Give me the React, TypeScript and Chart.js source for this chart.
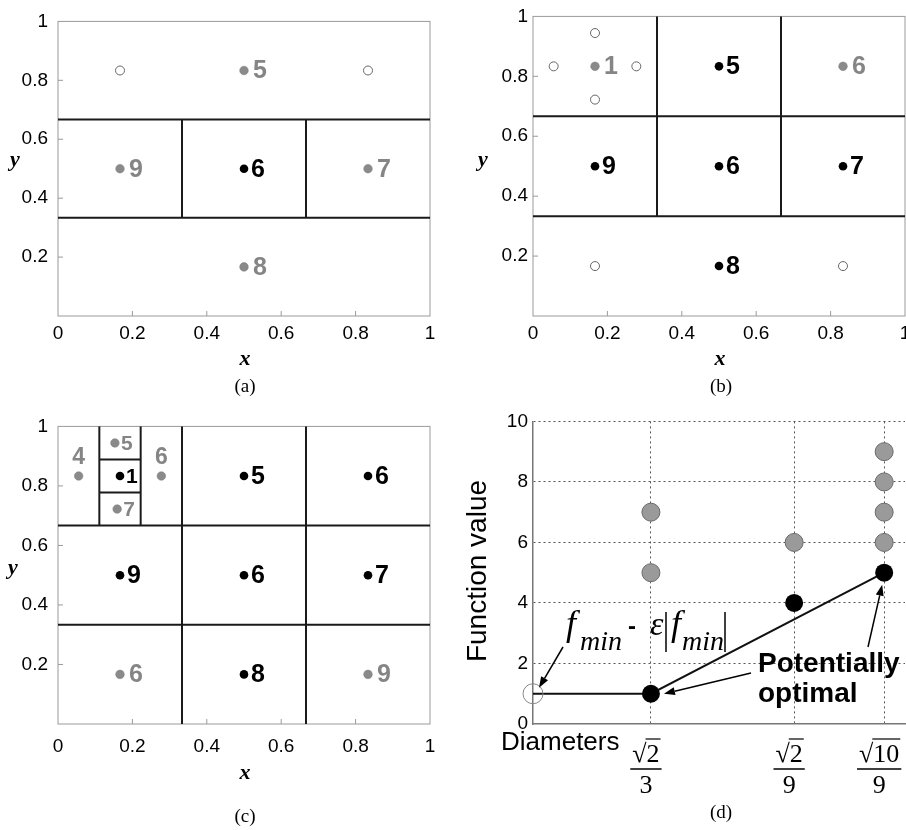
import React, { useEffect, useRef } from "react";
import { Chart, registerables } from "chart.js";
Chart.register(...registerables);

const SANS = '"Liberation Sans", Arial, sans-serif';
const SERIF = '"Liberation Serif", "Times New Roman", serif';

// ---------- data ----------
const UNIT_TICKS = [0, 0.2, 0.4, 0.6, 0.8, 1];

// panel (a)
const A_OPEN = [{ x: 1 / 6, y: 5 / 6 }, { x: 5 / 6, y: 5 / 6 }];
const A_GRAY = [
  { x: 0.5, y: 5 / 6, t: "5" },
  { x: 1 / 6, y: 0.5, t: "9" },
  { x: 5 / 6, y: 0.5, t: "7" },
  { x: 0.5, y: 1 / 6, t: "8" },
];
const A_BLACK = [{ x: 0.5, y: 0.5, t: "6" }];
const A_LINES = [
  [0, 2 / 3, 1, 2 / 3],
  [0, 1 / 3, 1, 1 / 3],
  [1 / 3, 1 / 3, 1 / 3, 2 / 3],
  [2 / 3, 1 / 3, 2 / 3, 2 / 3],
];

// panel (b)
const B_OPEN = [
  { x: 1 / 18, y: 5 / 6 },
  { x: 5 / 18, y: 5 / 6 },
  { x: 1 / 6, y: 17 / 18 },
  { x: 1 / 6, y: 13 / 18 },
  { x: 1 / 6, y: 1 / 6 },
  { x: 5 / 6, y: 1 / 6 },
];
const B_GRAY = [
  { x: 1 / 6, y: 5 / 6, t: "1" },
  { x: 5 / 6, y: 5 / 6, t: "6" },
];
const B_BLACK = [
  { x: 0.5, y: 5 / 6, t: "5" },
  { x: 1 / 6, y: 0.5, t: "9" },
  { x: 0.5, y: 0.5, t: "6" },
  { x: 5 / 6, y: 0.5, t: "7" },
  { x: 0.5, y: 1 / 6, t: "8" },
];
const B_LINES = [
  [0, 2 / 3, 1, 2 / 3],
  [0, 1 / 3, 1, 1 / 3],
  [1 / 3, 1 / 3, 1 / 3, 1],
  [2 / 3, 1 / 3, 2 / 3, 1],
];

// panel (c)
const C_OPEN: { x: number; y: number }[] = [];
const C_GRAY = [
  { x: 1 / 18, y: 5 / 6, t: "4" },
  { x: 5 / 18, y: 5 / 6, t: "6" },
  { x: 0.153, y: 17 / 18, t: "5" },
  { x: 0.159, y: 13 / 18, t: "7" },
  { x: 1 / 6, y: 1 / 6, t: "6" },
  { x: 5 / 6, y: 1 / 6, t: "9" },
];
const C_BLACK = [
  { x: 1 / 6, y: 5 / 6, t: "1" },
  { x: 0.5, y: 5 / 6, t: "5" },
  { x: 5 / 6, y: 5 / 6, t: "6" },
  { x: 1 / 6, y: 0.5, t: "9" },
  { x: 0.5, y: 0.5, t: "6" },
  { x: 5 / 6, y: 0.5, t: "7" },
  { x: 0.5, y: 1 / 6, t: "8" },
];
const C_LINES = [
  [0, 2 / 3, 1, 2 / 3],
  [0, 1 / 3, 1, 1 / 3],
  [1 / 3, 0, 1 / 3, 1],
  [2 / 3, 0, 2 / 3, 1],
  [1 / 9, 2 / 3, 1 / 9, 1],
  [2 / 9, 2 / 3, 2 / 9, 1],
  [1 / 9, 7 / 9, 2 / 9, 7 / 9],
  [1 / 9, 8 / 9, 2 / 9, 8 / 9],
];

// panel (d)
const D_DIAMETERS = [
  { rad: "2", den: "3" },
  { rad: "2", den: "9" },
  { rad: "10", den: "9" },
];
const D_X = [0.317, 0.702, 0.944];
const D_GRAY = [[5, 7], [6], [6, 7, 8, 9]];
const D_BLACK = [1, 4, 5];
const D_FMIN_EPS = 1;
const D_Y_TICKS = [0, 2, 4, 6, 8, 10];

// ---------- helpers ----------
type Pt = { x: number; y: number; t: string };

const unitFmt = (v: number) => {
  const r = Math.round(v * 10) / 10;
  if (r === 0) return "0";
  if (r === 1) return "1";
  return r.toFixed(1);
};

function text(
  ctx: CanvasRenderingContext2D,
  s: string,
  x: number,
  y: number,
  font: string,
  color = "#000",
  align: CanvasTextAlign = "center",
  baseline: CanvasTextBaseline = "middle"
) {
  ctx.save();
  ctx.font = font;
  ctx.fillStyle = color;
  ctx.textAlign = align;
  ctx.textBaseline = baseline;
  ctx.fillText(s, x, y);
  ctx.restore();
}

function arrow(ctx: CanvasRenderingContext2D, x1: number, y1: number, x2: number, y2: number) {
  const head = 11;
  const hw = 4;
  const ang = Math.atan2(y2 - y1, x2 - x1);
  const bx = x2 - head * Math.cos(ang);
  const by = y2 - head * Math.sin(ang);
  ctx.save();
  ctx.strokeStyle = "#000";
  ctx.fillStyle = "#000";
  ctx.lineWidth = 1.5;
  ctx.beginPath();
  ctx.moveTo(x1, y1);
  ctx.lineTo(bx, by);
  ctx.stroke();
  ctx.beginPath();
  ctx.moveTo(x2, y2);
  ctx.lineTo(bx + hw * Math.sin(ang), by - hw * Math.cos(ang));
  ctx.lineTo(bx - hw * Math.sin(ang), by + hw * Math.cos(ang));
  ctx.closePath();
  ctx.fill();
  ctx.restore();
}

function hline(ctx: CanvasRenderingContext2D, x1: number, y1: number, x2: number, y2: number, w = 1.5) {
  ctx.save();
  ctx.strokeStyle = "#000";
  ctx.lineWidth = w;
  ctx.beginPath();
  ctx.moveTo(x1, y1);
  ctx.lineTo(x2, y2);
  ctx.stroke();
  ctx.restore();
}

type Mode = "right" | "above" | "small";

interface UnitCfg {
  open: { x: number; y: number }[];
  gray: Pt[];
  black: Pt[];
  lines: number[][];
  box: { l: number; r: number; t: number; b: number };
  w: number;
  h: number;
  yTickPad: number;
  xTickPad: number;
  yTitle: [number, number];
  xTitle: [number, number];
  caption: [string, number, number];
  labelMode?: (p: Pt) => Mode;
}

function buildUnit(canvas: HTMLCanvasElement, c: UnitCfg) {
  const mode = c.labelMode || (() => "right" as Mode);
  const datasets: any[] = [
    { data: c.black, pointRadius: 4.3, pointBackgroundColor: "#000", pointBorderColor: "#000", pointBorderWidth: 0, showLine: false, clip: false },
    { data: c.gray, pointRadius: 4.3, pointBackgroundColor: "#8a8a8a", pointBorderColor: "#7a7a7a", pointBorderWidth: 0.5, showLine: false, clip: false },
    { data: c.open, pointRadius: 4.5, pointBackgroundColor: "#fff", pointBorderColor: "#666", pointBorderWidth: 1, showLine: false, clip: false },
    ...c.lines.map((s) => ({
      data: [{ x: s[0], y: s[1] }, { x: s[2], y: s[3] }],
      showLine: true,
      pointRadius: 0,
      borderColor: "#1a1a1a",
      borderWidth: 2,
      clip: false,
    })),
  ];
  const decor = {
    id: "decor",
    beforeDatasetsDraw(chart: any) {
      const { ctx, chartArea: a, scales } = chart;
      ctx.save();
      ctx.strokeStyle = "#9a9a9a";
      ctx.lineWidth = 1;
      ctx.strokeRect(a.left, a.top, a.right - a.left, a.bottom - a.top);
      for (const v of UNIT_TICKS.slice(1, -1)) {
        const px = scales.x.getPixelForValue(v);
        ctx.beginPath();
        ctx.moveTo(px, a.bottom);
        ctx.lineTo(px, a.bottom - 5);
        ctx.stroke();
        const py = scales.y.getPixelForValue(v);
        ctx.beginPath();
        ctx.moveTo(a.left, py);
        ctx.lineTo(a.left + 5, py);
        ctx.stroke();
      }
      ctx.restore();
    },
    afterDatasetsDraw(chart: any) {
      const { ctx, scales } = chart;
      const draw = (p: Pt, color: string, gap: number) => {
        const px = scales.x.getPixelForValue(p.x);
        const py = scales.y.getPixelForValue(p.y);
        const m = mode(p);
        if (m === "above") text(ctx, p.t, px, py - 18, `bold 23px ${SANS}`, color, "center");
        else if (m === "small") text(ctx, p.t, px + 6, py + 1, `bold 21px ${SANS}`, color, "left");
        else text(ctx, p.t, px + gap, py + 1, `bold 25px ${SANS}`, color, "left");
      };
      c.gray.forEach((p) => draw(p, "#858585", 9));
      c.black.forEach((p) => draw(p, "#000", 7));
    },
    afterDraw(chart: any) {
      const { ctx } = chart;
      text(ctx, "y", c.yTitle[0], c.yTitle[1], `italic bold 22px ${SERIF}`);
      text(ctx, "x", c.xTitle[0], c.xTitle[1], `italic bold 22px ${SERIF}`);
      text(ctx, c.caption[0], c.caption[1], c.caption[2], `19px ${SERIF}`);
    },
  };
  return new Chart(canvas, {
    type: "scatter",
    data: { datasets },
    plugins: [decor],
    options: {
      responsive: false,
      animation: false,
      events: [],
      layout: { padding: { left: 0, right: c.w - c.box.r, top: c.box.t, bottom: c.h - c.box.b - 30 } },
      plugins: { legend: { display: false }, tooltip: { enabled: false } },
      scales: {
        x: {
          type: "linear",
          min: 0,
          max: 1,
          afterBuildTicks: (s: any) => {
            s.ticks = UNIT_TICKS.map((v) => ({ value: v }));
          },
          afterFit: (s: any) => {
            s.height = 30;
          },
          ticks: { font: { family: SANS, size: 19 }, color: "#000", padding: c.xTickPad, maxRotation: 0, autoSkip: false, callback: (v: any) => unitFmt(Number(v)) },
          grid: { display: false, drawTicks: false },
          border: { display: false },
        },
        y: {
          type: "linear",
          min: 0,
          max: 1,
          afterBuildTicks: (s: any) => {
            s.ticks = UNIT_TICKS.map((v) => ({ value: v }));
          },
          afterFit: (s: any) => {
            s.width = c.box.l;
          },
          ticks: { font: { family: SANS, size: 19 }, color: "#000", padding: c.yTickPad, autoSkip: false, callback: (v: any) => (Number(v) === 0 ? "" : unitFmt(Number(v))) },
          grid: { display: false, drawTicks: false },
          border: { display: false },
        },
      },
    } as any,
  });
}

function frac(ctx: CanvasRenderingContext2D, cx: number, rad: string, den: string) {
  ctx.save();
  ctx.font = `26px ${SERIF}`;
  ctx.fillStyle = "#000";
  const ws = ctx.measureText("√").width;
  const wr = ctx.measureText(rad).width;
  const tot = ws + wr;
  const x0 = cx - tot / 2;
  ctx.textAlign = "left";
  ctx.textBaseline = "alphabetic";
  ctx.fillText("√", x0, 357);
  ctx.fillText(rad, x0 + ws, 357);
  ctx.restore();
  hline(ctx, x0 + ws - 1, 334, x0 + tot + 1, 334, 1.2);
  hline(ctx, cx - tot / 2 - 2, 364, cx + tot / 2 + 2, 364, 1.5);
  text(ctx, den, cx, 388, `26px ${SERIF}`, "#000", "center", "alphabetic");
}

function buildD(canvas: HTMLCanvasElement) {
  const W = 470;
  const H = 425;
  const box = { l: 80, r: 452, t: 15, b: 319 };
  const grayPts: { x: number; y: number }[] = [];
  D_GRAY.forEach((arr, i) => arr.forEach((v) => grayPts.push({ x: D_X[i], y: v })));
  const blackPts = D_X.map((x, i) => ({ x, y: D_BLACK[i] }));
  const hull = [
    { x: 0, y: D_FMIN_EPS },
    { x: D_X[0], y: D_BLACK[0] },
    { x: D_X[2], y: D_BLACK[2] },
  ];
  const decor = {
    id: "decorD",
    afterDraw(chart: any) {
      const { ctx, scales } = chart;
      const sx = scales.x;
      const sy = scales.y;
      // y title
      ctx.save();
      ctx.translate(25, 166);
      ctx.rotate(-Math.PI / 2);
      text(ctx, "Function value", 0, 0, `28px ${SANS}`);
      ctx.restore();
      // x label + fractions
      text(ctx, "Diameters", 48, 345, `26px ${SANS}`, "#000", "left", "alphabetic");
      D_DIAMETERS.forEach((d, i) => frac(ctx, sx.getPixelForValue(D_X[i]) - 5, d.rad, d.den));
      text(ctx, "(d)", 268, 408, `19px ${SERIF}`);
      // f_min - eps|f_min|
      text(ctx, "f", 113, 230, `italic 36px ${SERIF}`, "#000", "left", "alphabetic");
      text(ctx, "min", 127, 245, `italic 28px ${SERIF}`, "#000", "left", "alphabetic");
      text(ctx, "-", 175, 222, `bold 24px ${SANS}`, "#000", "left", "middle");
      text(ctx, "ε", 197, 230, `italic 34px ${SERIF}`, "#000", "left", "alphabetic");
      hline(ctx, 213, 207, 213, 247, 1.5);
      text(ctx, "f", 218, 230, `italic 36px ${SERIF}`, "#000", "left", "alphabetic");
      text(ctx, "min", 229, 245, `italic 28px ${SERIF}`, "#000", "left", "alphabetic");
      hline(ctx, 272, 207, 272, 247, 1.5);
      // Potentially optimal
      text(ctx, "Potentially", 305, 267, `bold 28px ${SANS}`, "#000", "left", "alphabetic");
      text(ctx, "optimal", 305, 297, `bold 28px ${SANS}`, "#000", "left", "alphabetic");
      // arrows
      const ox = sx.getPixelForValue(0);
      const oy = sy.getPixelForValue(D_FMIN_EPS);
      arrow(ctx, 110, 242, ox + 6, oy - 6);
      const b0x = sx.getPixelForValue(D_X[0]);
      const b0y = sy.getPixelForValue(D_BLACK[0]);
      arrow(ctx, 298, 268, b0x + 13, b0y);
      const b2x = sx.getPixelForValue(D_X[2]);
      const b2y = sy.getPixelForValue(D_BLACK[2]);
      arrow(ctx, 415, 242, b2x - 2, b2y + 12);
    },
  };
  const dash = [2, 3];
  return new Chart(canvas, {
    type: "scatter",
    data: {
      datasets: [
        { data: blackPts, pointRadius: 9, pointBackgroundColor: "#000", pointBorderColor: "#000", pointBorderWidth: 0, showLine: false, clip: false },
        { data: grayPts, pointRadius: 9, pointBackgroundColor: "#9a9a9a", pointBorderColor: "#6a6a6a", pointBorderWidth: 1, showLine: false, clip: false },
        { data: [{ x: 0, y: D_FMIN_EPS }], pointRadius: 10, pointBackgroundColor: "rgba(0,0,0,0)", pointBorderColor: "#888", pointBorderWidth: 1, showLine: false, clip: false },
        { data: hull, showLine: true, pointRadius: 0, borderColor: "#111", borderWidth: 2, clip: false },
      ] as any,
    },
    plugins: [decor],
    options: {
      responsive: false,
      animation: false,
      events: [],
      layout: { padding: { left: 0, right: W - box.r, top: box.t, bottom: H - box.b - 30 } },
      plugins: { legend: { display: false }, tooltip: { enabled: false } },
      scales: {
        x: {
          type: "linear",
          min: 0,
          max: 1,
          afterBuildTicks: (s: any) => {
            s.ticks = D_X.map((v) => ({ value: v }));
          },
          afterFit: (s: any) => {
            s.height = 30;
          },
          ticks: { display: false },
          grid: { color: "#555", lineWidth: 1, drawTicks: false },
          border: { display: true, color: "#777", width: 1.5, dash },
        },
        y: {
          type: "linear",
          min: 0,
          max: 10,
          afterBuildTicks: (s: any) => {
            s.ticks = D_Y_TICKS.map((v) => ({ value: v }));
          },
          afterFit: (s: any) => {
            s.width = box.l;
          },
          ticks: { font: { family: SANS, size: 19 }, color: "#000", padding: 5, autoSkip: false },
          grid: { color: (ctx: any) => (ctx.tick && ctx.tick.value === 0 ? "rgba(0,0,0,0)" : "#555"), lineWidth: 1, drawTicks: false },
          border: { display: true, color: "#777", width: 1.5, dash },
        },
      },
    } as any,
  });
}

function Panel({ left, top, w, h, build }: { left: number; top: number; w: number; h: number; build: (c: HTMLCanvasElement) => Chart }) {
  const ref = useRef<HTMLCanvasElement>(null);
  useEffect(() => {
    const ch = build(ref.current!);
    return () => ch.destroy();
  }, [build]);
  return <canvas ref={ref} width={w} height={h} style={{ position: "absolute", left, top, width: w, height: h }} />;
}

const buildA = (cv: HTMLCanvasElement) =>
  buildUnit(cv, {
    open: A_OPEN, gray: A_GRAY, black: A_BLACK, lines: A_LINES,
    box: { l: 58, r: 430, t: 12, b: 316 }, w: 453, h: 405,
    yTickPad: 10, xTickPad: 6,
    yTitle: [15, 160], xTitle: [245, 359], caption: ["(a)", 245, 387],
  });

const buildB = (cv: HTMLCanvasElement) =>
  buildUnit(cv, {
    open: B_OPEN, gray: B_GRAY, black: B_BLACK, lines: B_LINES,
    box: { l: 80, r: 452, t: 12, b: 316 }, w: 470, h: 405,
    yTickPad: 5, xTickPad: 6,
    yTitle: [30, 160], xTitle: [267, 359], caption: ["(b)", 268, 387],
  });

const buildC = (cv: HTMLCanvasElement) =>
  buildUnit(cv, {
    open: C_OPEN, gray: C_GRAY, black: C_BLACK, lines: C_LINES,
    box: { l: 58, r: 430, t: 15, b: 319 }, w: 453, h: 425,
    yTickPad: 10, xTickPad: 11,
    yTitle: [13, 163], xTitle: [245, 368], caption: ["(c)", 245, 412],
    labelMode: (p: Pt) => {
      if (p.x < 1 / 9 || (p.x > 2 / 9 && p.x < 1 / 3)) return p.y > 2 / 3 ? "above" : "right";
      if (p.x < 2 / 9 && p.y > 2 / 3) return "small";
      return "right";
    },
  });

export default function App() {
  return (
    <div style={{ position: "fixed", left: 0, top: 0, width: 906, height: 830, overflow: "hidden", background: "#fff" }}>
      <Panel left={0} top={0} w={453} h={405} build={buildA} />
      <Panel left={453} top={0} w={470} h={405} build={buildB} />
      <Panel left={0} top={405} w={453} h={425} build={buildC} />
      <Panel left={453} top={405} w={470} h={425} build={buildD} />
    </div>
  );
}
